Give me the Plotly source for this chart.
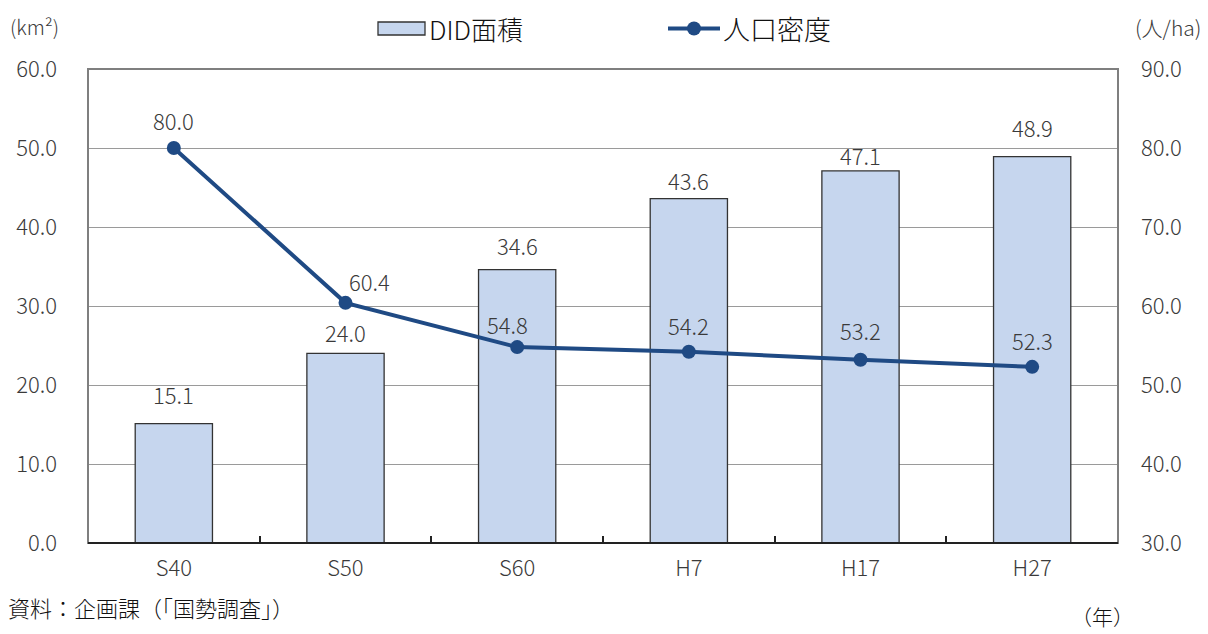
import plotly.graph_objects as go

# DID (densely inhabited district) area and population density by census year
years = ["S40", "S50", "S60", "H7", "H17", "H27"]
did_area = [15.1, 24.0, 34.6, 43.6, 47.1, 48.9]          # km²
pop_density = [80.0, 60.4, 54.8, 54.2, 53.2, 52.3]       # persons/ha

left_ticks = [0, 10, 20, 30, 40, 50, 60]
right_ticks = [30, 40, 50, 60, 70, 80, 90]

FONT = "Noto Sans CJK JP"
TXT = "#3a3a3a"
BAR_FILL = "#c6d6ee"
LINE_COL = "#1f4a84"

# plot-area geometry (pixels) used for the paper-coordinate helpers below
W, H = 1208, 634
ML, MR, MT, MB = 88, 90, 69, 91
PW, PH = W - ML - MR, H - MT - MB


def px(x):
    return (x - ML) / PW


def py(y):
    return (H - MB - y) / PH


def num_font(size=22, color=TXT):
    return dict(family=FONT, size=size, color=color, weight=300)


fig = go.Figure()

fig.add_trace(go.Bar(
    x=years, y=did_area, width=0.45,
    marker=dict(color=BAR_FILL, line=dict(color="#333333", width=1.3)),
    yaxis="y", showlegend=False, hoverinfo="x+y",
))

fig.add_trace(go.Scatter(
    x=years, y=pop_density, yaxis="y2", mode="lines+markers",
    line=dict(color=LINE_COL, width=4),
    marker=dict(color=LINE_COL, size=14),
    showlegend=False,
))

annotations = []

# value labels for the bars
bar_dy = [30, 21, 25, 19, 16, 30]
for x, v, dy in zip(years, did_area, bar_dy):
    annotations.append(dict(x=x, y=v, xref="x", yref="y", text=f"{v:.1f}",
                            showarrow=False, yshift=dy, yanchor="middle",
                            font=num_font()))

# value labels for the density line
line_dx = [0, 24, -10, 0, 0, 0]
line_dy = [28, 22, 23, 27, 30, 27]
for x, v, dx, dy in zip(years, pop_density, line_dx, line_dy):
    annotations.append(dict(x=x, y=v, xref="x", yref="y2", text=f"{v:.1f}",
                            showarrow=False, xshift=dx, yshift=dy, yanchor="middle",
                            font=num_font()))

# unit labels, source note and year label
annotations += [
    dict(x=px(8), y=py(27), xref="paper", yref="paper", text="(km²)",
         showarrow=False, xanchor="left", yanchor="middle",
         font=num_font(20)),
    dict(x=px(1203), y=py(27), xref="paper", yref="paper", text="(人/ha)",
         showarrow=False, xanchor="right", yanchor="middle",
         font=num_font(21)),
    dict(x=px(6), y=py(607), xref="paper", yref="paper", text="資料：企画課（「国勢調査」）",
         showarrow=False, xanchor="left", yanchor="middle",
         font=num_font(22, "#111111")),
    dict(x=px(1136), y=py(616), xref="paper", yref="paper", text="（年）",
         showarrow=False, xanchor="right", yanchor="middle",
         font=num_font(21, "#111111")),
    # legend texts
    dict(x=px(427), y=py(28), xref="paper", yref="paper", text="DID面積",
         showarrow=False, xanchor="left", yanchor="middle",
         font=num_font(26, "#111111")),
    dict(x=px(721), y=py(28), xref="paper", yref="paper", text="人口密度",
         showarrow=False, xanchor="left", yanchor="middle",
         font=num_font(27, "#111111")),
]

shapes = [
    # plot frame (grey left, top and right edges)
    dict(type="rect", xref="paper", yref="paper", x0=0, x1=1, y0=0, y1=1,
         line=dict(color="#7f7f7f", width=2), layer="above"),
    # bottom axis line
    dict(type="line", xref="paper", yref="paper", x0=0, x1=1, y0=0, y1=0,
         line=dict(color="#222222", width=2), layer="above"),
    # legend: bar swatch
    dict(type="rect", xref="paper", yref="paper",
         x0=px(378), x1=px(425), y0=py(35), y1=py(22),
         fillcolor=BAR_FILL, line=dict(color="#333333", width=1.3)),
    # legend: line swatch
    dict(type="line", xref="paper", yref="paper",
         x0=px(668), x1=px(720), y0=py(28.5), y1=py(28.5),
         line=dict(color=LINE_COL, width=4)),
    dict(type="circle", xref="paper", yref="paper",
         x0=px(687), x1=px(701), y0=py(35.5), y1=py(21.5),
         fillcolor=LINE_COL, line=dict(color=LINE_COL, width=0)),
]

fig.update_layout(
    width=W, height=H,
    margin=dict(l=ML, r=MR, t=MT, b=MB, pad=0),
    paper_bgcolor="white", plot_bgcolor="white",
    font=dict(family=FONT, size=19, color=TXT),
    showlegend=False,
    bargap=0.55,
    xaxis=dict(
        type="category", range=[-0.5, 5.5], showgrid=False,
        ticks="inside", tickson="boundaries", ticklen=7, tickwidth=1.5,
        tickcolor="#222222", showline=False,
        tickfont=num_font(22),
        ticklabelstandoff=10,
    ),
    yaxis=dict(
        range=[0, 60], tickmode="array", tickvals=left_ticks,
        ticktext=[f"{t:.1f}" for t in left_ticks],
        showgrid=True, gridcolor="#9a9a9a", gridwidth=1,
        zeroline=False, showline=False, ticks="",
        tickfont=num_font(22),
        ticklabelstandoff=30,
    ),
    yaxis2=dict(
        range=[30, 90], overlaying="y", side="right",
        tickmode="array", tickvals=right_ticks,
        ticktext=[f"{t:.1f}" for t in right_ticks],
        showgrid=False, zeroline=False, showline=False, ticks="",
        tickfont=num_font(22),
        ticklabelstandoff=22,
    ),
    annotations=annotations,
    shapes=shapes,
)

fig.write_html("out.html")
